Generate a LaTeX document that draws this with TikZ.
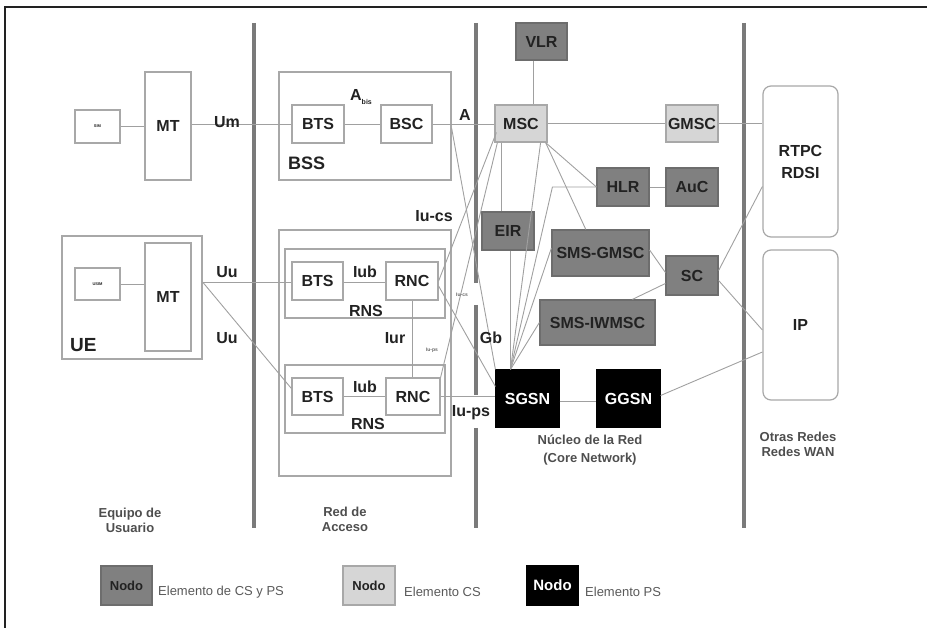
\documentclass[tikz,border=0pt]{standalone}
\usepackage{fontspec}
\setmainfont{Liberation Sans}
\usetikzlibrary{calc}
\definecolor{dk}{HTML}{808080}
\definecolor{lt}{HTML}{D6D6D6}
\definecolor{bx}{HTML}{A8A8A8}
\definecolor{ln}{HTML}{A0A0A0}
\definecolor{br}{HTML}{7A7A7A}
\definecolor{tx}{HTML}{222222}
\begin{document}
\begin{tikzpicture}[x=1pt,y=-1pt,
  box/.style={draw=bx, line width=1.2pt, fill=white, inner sep=0pt, text=tx,
    font=\bfseries\fontsize{16}{16}\selectfont},
  grp/.style={draw=bx, line width=1.2pt, inner sep=0pt},
  dkbox/.style={box, fill=dk, draw=dk!85!black},
  ltbox/.style={box, fill=lt},
  bkbox/.style={box, fill=black, draw=black, text=white},
  rbox/.style={box, rounded corners=8pt, align=center},
  lbl/.style={font=\bfseries\fontsize{16}{16}\selectfont, text=tx, inner sep=1pt},
  tiny/.style={font=\bfseries\fontsize{5}{5}\selectfont, text=tx!70, inner sep=0.5pt},
  region/.style={font=\bfseries\fontsize{13}{15}\selectfont, text=tx!80, align=center, inner sep=0pt},
  legtxt/.style={font=\fontsize{13}{13}\selectfont, text=tx!75, anchor=west, inner sep=0pt},
  conn/.style={draw=ln, line width=0.9pt},
  bar/.style={draw=br, line width=4pt}]
\useasboundingbox (0,0) rectangle (927,628);
% frame
\draw[line width=1.5pt, draw=tx] (5,628) -- (5,7) -- (927,7);
% thick separators
\draw[bar] (254,23) -- (254,528);
\draw[bar] (476,23) -- (476,283);
\draw[bar] (476,305) -- (476,395);
\draw[bar] (476,428) -- (476,528);
\draw[bar] (744,23) -- (744,528);

% groups
\node[grp, minimum width=140pt, minimum height=123pt] (ue) at (132,297.5) {};
\node[grp, minimum width=172pt, minimum height=108pt] (bss) at (365,126) {};
\node[grp, minimum width=172pt, minimum height=246pt] (acc) at (365,353) {};
\node[grp, minimum width=160pt, minimum height=69pt] (rns1) at (365,283.5) {};
\node[grp, minimum width=160pt, minimum height=68pt] (rns2) at (365,399) {};

% user equipment
\node[box, minimum width=45pt, minimum height=33pt, font=\bfseries\fontsize{4}{4}\selectfont] (sim) at (97.5,126.5) {SIM};
\node[box, minimum width=46pt, minimum height=108pt] (mt1) at (168,126) {MT};
\node[box, minimum width=45pt, minimum height=32pt, font=\bfseries\fontsize{4}{4}\selectfont] (usim) at (97.5,284) {USIM};
\node[box, minimum width=46pt, minimum height=108pt] (mt2) at (168,297) {MT};

% access network
\node[box, minimum width=52pt, minimum height=38pt] (bts1) at (318,124) {BTS};
\node[box, minimum width=51pt, minimum height=38pt] (bsc) at (406.5,124) {BSC};
\node[box, minimum width=51pt, minimum height=38pt] (bts2) at (317.5,281) {BTS};
\node[box, minimum width=52pt, minimum height=38pt] (rnc1) at (412,281) {RNC};
\node[box, minimum width=51pt, minimum height=37pt] (bts3) at (317.5,396.5) {BTS};
\node[box, minimum width=54pt, minimum height=37pt] (rnc2) at (413,396.5) {RNC};

% core network
\node[dkbox, minimum width=51pt, minimum height=37pt] (vlr) at (541.5,41.5) {VLR};
\node[ltbox, minimum width=52pt, minimum height=37pt] (msc) at (521,123.5) {MSC};
\node[ltbox, minimum width=52pt, minimum height=37pt] (gmsc) at (692,123.5) {GMSC};
\node[dkbox, minimum width=52pt, minimum height=38pt] (hlr) at (623,187) {HLR};
\node[dkbox, minimum width=52pt, minimum height=38pt] (auc) at (692,187) {AuC};
\node[dkbox, minimum width=52pt, minimum height=38pt] (eir) at (508,231) {EIR};
\node[dkbox, minimum width=97pt, minimum height=46pt] (smsg) at (600.5,253) {SMS-GMSC};
\node[dkbox, minimum width=52pt, minimum height=39pt] (sc) at (692,275.5) {SC};
\node[dkbox, minimum width=115pt, minimum height=45pt] (smsi) at (597.5,322.5) {SMS-IWMSC};
\node[bkbox, minimum width=63pt, minimum height=57pt] (sgsn) at (527.5,398.5) {SGSN};
\node[bkbox, minimum width=63pt, minimum height=57pt] (ggsn) at (628.5,398.5) {GGSN};

% other networks
\node[rbox, minimum width=75pt, minimum height=151pt] (rtpc) at (800.5,161.5) {RTPC\\[6pt]RDSI};
\node[rbox, minimum width=75pt, minimum height=150pt] (ip) at (800.5,325) {IP};

% helper coordinates
\coordinate (sgtop) at ([xshift=-17pt]sgsn.north);
\coordinate (hlrbend) at ([xshift=-44pt]hlr.west);

% connectors: user side / access
\draw[conn] (sim.east) -- (sim.east -| mt1.west);
\draw[conn] (bts1.west) -- (bts1.west -| mt1.east);
\draw[conn] (bts1.east) -- (bts1.east -| bsc.west);
\draw[conn] (bsc.east) -- (bsc.east -| msc.west);
\draw[conn] (usim.east) -- (usim.east -| mt2.west);
\draw[conn] ([yshift=-1pt]bts2.west) -- ([yshift=-1pt]bts2.west -| ue.east);
\draw[conn] ([yshift=-1pt]bts2.west -| ue.east) -- ([yshift=8pt]bts3.west);
\draw[conn] ([yshift=-1pt]bts2.east) -- ([yshift=-1pt]bts2.east -| rnc1.west);
\draw[conn] (bts3.east) -- (bts3.east -| rnc2.west);
\draw[conn] (rnc1.south) -- (rnc1.south |- rnc2.north);
\draw[conn] (rnc2.east) -- (rnc2.east -| sgsn.west);
\draw[conn] (rnc1.east) -- ([xshift=2pt,yshift=-9pt]msc.west);
\draw[conn] ([xshift=3pt]msc.south west) -- (rnc2.north east);
\draw[conn] ([yshift=-5pt]rnc1.east) -- ([yshift=12pt]sgsn.west);
\draw[conn] ([yshift=-2pt]bss.east) -- (sgsn.north west);

% connectors: core
\draw[conn] (msc.east) -- (msc.east -| gmsc.west);
\draw[conn] (gmsc.east) -- (gmsc.east -| rtpc.west);
\draw[conn] ([xshift=-8pt]vlr.south) -- ([xshift=-8pt]vlr.south |- msc.north);
\draw[conn] ([xshift=-2pt]msc.south east) -- (hlr.west);
\draw[conn] ([xshift=-2pt]msc.south east) -- ($(smsg.north west)!0.35!(smsg.north east)$);
\draw[conn] ([xshift=7pt]msc.south west) -- ([xshift=7pt]msc.south west |- eir.north);
\draw[conn] ([xshift=-7pt]msc.south east) -- (sgtop);
\draw[conn] (eir.south -| sgtop) -- (sgtop);
\draw[conn] (sgtop) -- ([yshift=5pt]smsg.west);
\draw[conn] (sgtop) -- (smsi.west);
\draw[conn] (sgtop) -- (hlrbend) -- (hlr.west);
\draw[conn] (hlr.east) -- (auc.west);
\draw[conn] ([yshift=3pt]smsg.east) -- ([yshift=3pt]sc.west);
\draw[conn] ($(smsi.north west)+(93,0)$) -- ([yshift=-8pt]sc.west);
\draw[conn] ([yshift=5pt]sc.east) -- ([yshift=-25pt]rtpc.west);
\draw[conn] ([yshift=-5pt]sc.east) -- ([yshift=-5pt]ip.west);
\draw[conn] ([yshift=3pt]ggsn.east) -- ([yshift=-27pt]ip.west);
\draw[conn] ([yshift=-3pt]sgsn.east) -- ([yshift=-3pt]sgsn.east -| ggsn.west);

% interface labels
\node[lbl] (lum) at (227,122) {Um};
\node[lbl] (luu1) at (227,272) {Uu};
\node[lbl] (luu2) at (227,338) {Uu};
\node[lbl] (labis) at (361,97) {A\raisebox{-4pt}{\fontsize{7}{7}\selectfont bis}};
\node[lbl] (la) at (465,115) {A};
\node[lbl, font=\bfseries\fontsize{18}{18}\selectfont, anchor=west] (lbss) at (287,163) {BSS};
\node[lbl, font=\bfseries\fontsize{19}{19}\selectfont, anchor=west] (lue) at (69,345) {UE};
\node[lbl] (liub1) at (365,272) {Iub};
\node[lbl] (liub2) at (365,387) {Iub};
\node[lbl] (lrns1) at (366,311) {RNS};
\node[lbl] (lrns2) at (368,424) {RNS};
\node[lbl] (liur) at (395,338) {Iur};
\node[lbl] (liucs) at (434,216) {Iu-cs};
\node[lbl] (liups) at (471,413) {Iu-ps};
\node[lbl] (lgb) at (491,338) {Gb};
\node[tiny] (tiucs) at (462,295) {Iu-cs};
\node[tiny] (tiups) at (432,350) {Iu-ps};

% region labels
\node[region] (rue) at (130,520) {Equipo de\\Usuario};
\node[region] (racc) at (345,519) {Red de\\Acceso};
\node[region, font=\fontsize{13}{18}\selectfont\bfseries] (rcore) at (590,450) {Núcleo de la Red\\(Core Network)};
\node[region] (rwan) at (798,444) {Otras Redes\\Redes WAN};

% legend
\node[dkbox, minimum width=51pt, minimum height=39pt, font=\bfseries\fontsize{13}{13}\selectfont] (leg1) at (126.5,585.5) {Nodo};
\node[legtxt] (legt1) at (158,592) {Elemento de CS y PS};
\node[ltbox, minimum width=52pt, minimum height=39pt, font=\bfseries\fontsize{13}{13}\selectfont] (leg2) at (369,585.5) {Nodo};
\node[legtxt] (legt2) at (404,592) {Elemento CS};
\node[bkbox, minimum width=51pt, minimum height=39pt, font=\bfseries\fontsize{15}{15}\selectfont] (leg3) at (552.5,585.5) {Nodo};
\node[legtxt] (legt3) at (585,592) {Elemento PS};
\end{tikzpicture}
\end{document}
